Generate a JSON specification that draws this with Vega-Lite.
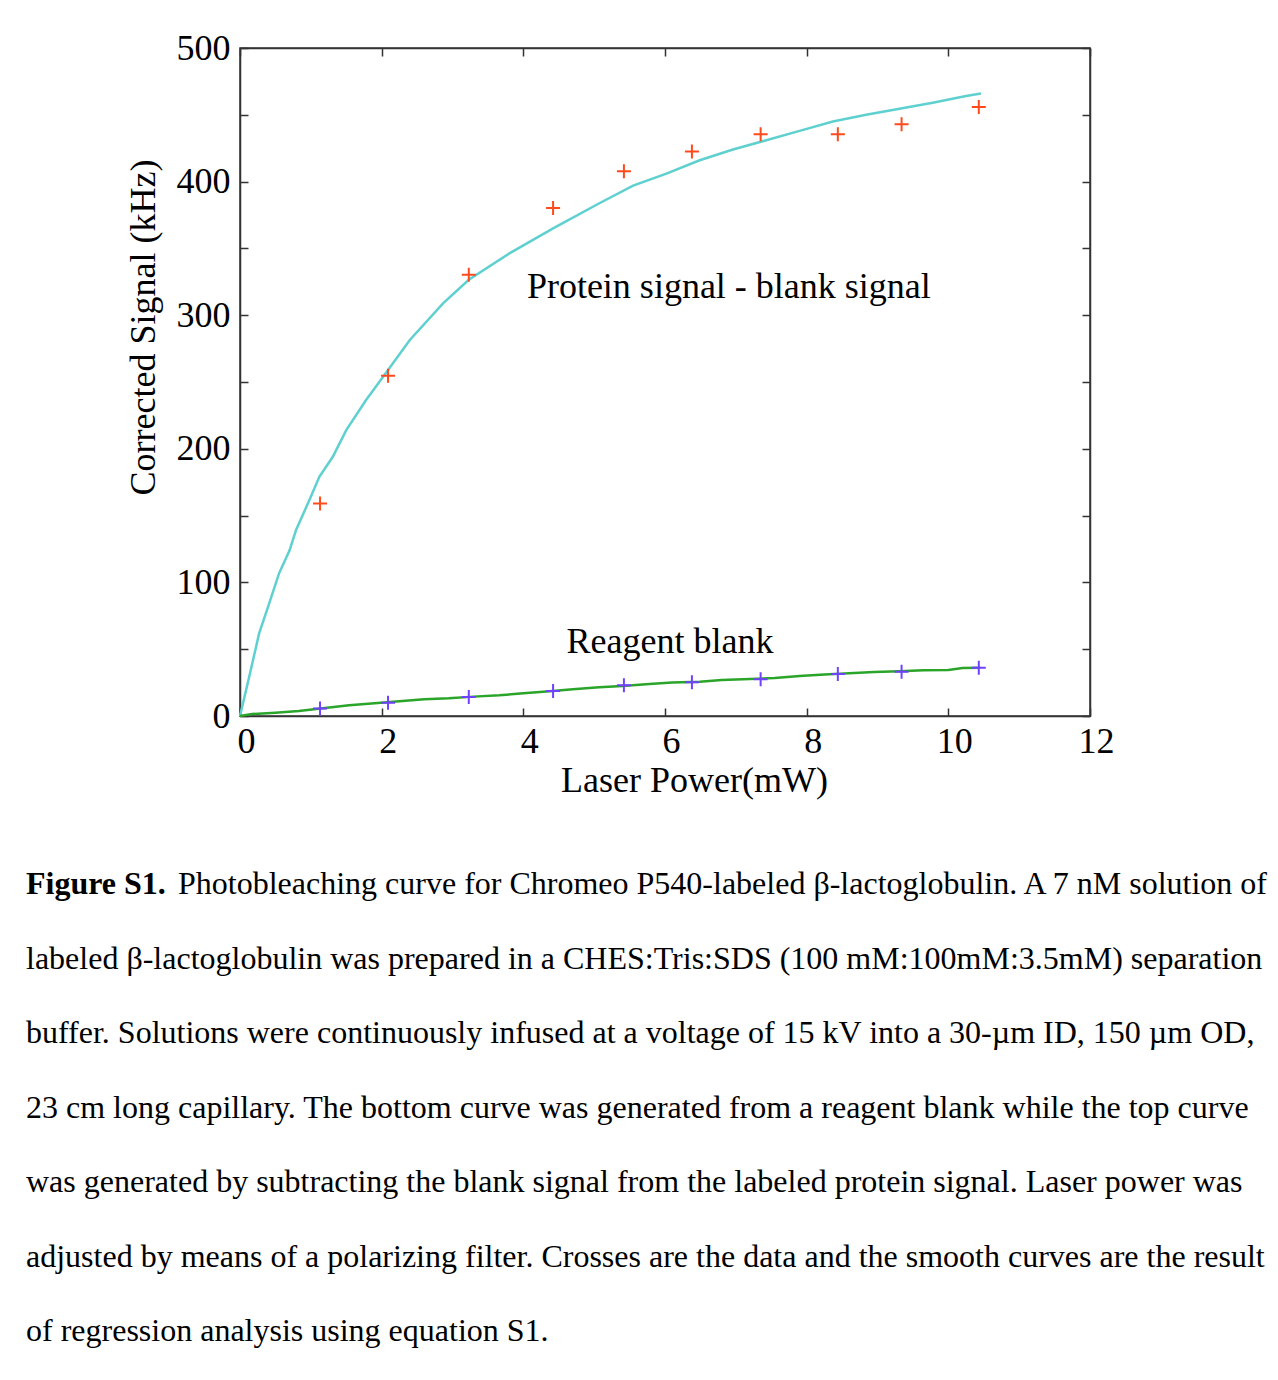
{
  "$schema": "https://vega.github.io/schema/vega-lite/v6.json",
  "width": 850,
  "height": 668,
  "autosize": {"type": "none"},
  "padding": {"left": 240, "top": 48, "right": 188, "bottom": 664},
  "background": "white",
  "config": {
    "font": "Liberation Serif",
    "view": {"stroke": "#333333", "strokeWidth": 1.5},
    "axis": {
      "grid": false,
      "domainColor": "#333333",
      "domainWidth": 1.5,
      "tickColor": "#333333",
      "tickWidth": 1.5,
      "labelFont": "Liberation Serif",
      "labelFontSize": 36,
      "labelColor": "#000000",
      "titleFont": "Liberation Serif",
      "titleFontSize": 36,
      "titleFontWeight": "normal",
      "titleColor": "#000000",
      "labelOverlap": false,
      "labelFlush": false
    }
  },
  "title": {
    "text": "Figure S1.",
    "orient": "bottom",
    "anchor": "start",
    "frame": "group",
    "dx": -214,
    "offset": 71,
    "font": "Liberation Serif",
    "fontSize": 32,
    "fontWeight": "bold",
    "color": "#000000",
    "subtitle": [
      "\u200b\u00a0\u00a0\u00a0\u00a0\u00a0\u00a0\u00a0\u00a0\u00a0\u00a0\u00a0\u00a0\u00a0\u00a0\u00a0\u00a0\u00a0\u00a0\u00a0Photobleaching curve for Chromeo P540-labeled β-lactoglobulin. A 7 nM solution of",
      "labeled β-lactoglobulin was prepared in a CHES:Tris:SDS (100 mM:100mM:3.5mM) separation",
      "buffer. Solutions were continuously infused at a voltage of 15 kV into a 30-µm ID, 150 µm OD,",
      "23 cm long capillary. The bottom curve was generated from a reagent blank while the top curve",
      "was generated by subtracting the blank signal from the labeled protein signal. Laser power was",
      "adjusted by means of a polarizing filter. Crosses are the data and the smooth curves are the result",
      "of regression analysis using equation S1."
    ],
    "subtitleFont": "Liberation Serif",
    "subtitleFontSize": 32,
    "subtitleFontWeight": "normal",
    "subtitleColor": "#000000",
    "subtitleLineHeight": 74.5,
    "subtitlePadding": -32
  },
  "datasets": {
    "fit_protein": [
      {"power": 0, "signal": 0},
      {"power": 0.13, "signal": 29.4},
      {"power": 0.27, "signal": 61.8},
      {"power": 0.41, "signal": 84},
      {"power": 0.55, "signal": 106.6},
      {"power": 0.7, "signal": 124},
      {"power": 0.79, "signal": 139},
      {"power": 0.98, "signal": 161.7},
      {"power": 1.12, "signal": 179},
      {"power": 1.31, "signal": 194},
      {"power": 1.5, "signal": 214},
      {"power": 1.78, "signal": 236.5},
      {"power": 2.09, "signal": 259},
      {"power": 2.4, "signal": 281.6},
      {"power": 2.87, "signal": 309},
      {"power": 3.23, "signal": 326.5},
      {"power": 3.81, "signal": 346.5},
      {"power": 4.42, "signal": 365},
      {"power": 5.08, "signal": 384},
      {"power": 5.55, "signal": 397},
      {"power": 6.02, "signal": 406},
      {"power": 6.49, "signal": 416},
      {"power": 6.96, "signal": 424},
      {"power": 7.43, "signal": 431},
      {"power": 7.9, "signal": 438},
      {"power": 8.37, "signal": 445},
      {"power": 8.84, "signal": 450},
      {"power": 9.31, "signal": 454.5},
      {"power": 9.78, "signal": 459},
      {"power": 10.25, "signal": 464},
      {"power": 10.46, "signal": 466}
    ],
    "fit_blank": [
      {"power": 0, "signal": 0},
      {"power": 0.17, "signal": 1.5},
      {"power": 0.5, "signal": 2.5},
      {"power": 0.83, "signal": 3.7},
      {"power": 1.2, "signal": 6},
      {"power": 1.54, "signal": 8},
      {"power": 1.9, "signal": 9.5},
      {"power": 2.25, "signal": 11},
      {"power": 2.6, "signal": 12.5},
      {"power": 2.95, "signal": 13.2},
      {"power": 3.3, "signal": 14.5},
      {"power": 3.66, "signal": 15.5},
      {"power": 4.0, "signal": 17},
      {"power": 4.37, "signal": 18.5},
      {"power": 4.7, "signal": 20},
      {"power": 5.07, "signal": 21.5},
      {"power": 5.4, "signal": 22.5},
      {"power": 5.78, "signal": 24},
      {"power": 6.1, "signal": 25},
      {"power": 6.49, "signal": 25.7},
      {"power": 6.8, "signal": 27},
      {"power": 7.2, "signal": 27.7},
      {"power": 7.55, "signal": 28.5},
      {"power": 7.9, "signal": 30},
      {"power": 8.25, "signal": 31},
      {"power": 8.6, "signal": 32},
      {"power": 8.95, "signal": 33},
      {"power": 9.31, "signal": 33.5},
      {"power": 9.65, "signal": 34.3},
      {"power": 10.0, "signal": 34.5},
      {"power": 10.2, "signal": 36},
      {"power": 10.45, "signal": 36.2}
    ],
    "data_protein": [
      {"power": 1.13, "signal": 159},
      {"power": 2.09, "signal": 254.6},
      {"power": 3.23, "signal": 330.2},
      {"power": 4.42, "signal": 380.3},
      {"power": 5.42, "signal": 407.8},
      {"power": 6.38, "signal": 422.5},
      {"power": 7.35, "signal": 435.5},
      {"power": 8.44, "signal": 435.5},
      {"power": 9.34, "signal": 443},
      {"power": 10.43, "signal": 455.9}
    ],
    "data_blank": [
      {"power": 1.13, "signal": 5.6},
      {"power": 2.09, "signal": 10},
      {"power": 3.23, "signal": 14.2},
      {"power": 4.42, "signal": 18.7},
      {"power": 5.42, "signal": 23},
      {"power": 6.38, "signal": 25.2},
      {"power": 7.35, "signal": 27.5},
      {"power": 8.44, "signal": 31.5},
      {"power": 9.34, "signal": 33.2},
      {"power": 10.43, "signal": 36.2}
    ],
    "labels": [
      {"label": "Protein signal - blank signal", "power": 4.05, "signal": 313},
      {"label": "Reagent blank", "power": 4.61, "signal": 47}
    ]
  },
  "layer": [
    {
      "data": {"name": "fit_protein"},
      "mark": {"type": "line", "color": "#5fd0d0", "strokeWidth": 2.5},
      "encoding": {
        "x": {
          "field": "power", "type": "quantitative",
          "scale": {"domain": [0, 12], "nice": false, "zero": false},
          "axis": {
            "orient": "bottom",
            "values": [0, 2, 4, 6, 8, 10, 12],
            "tickSize": -8,
            "labelPadding": 16,
            "labelOffset": 6,
            "title": "Laser Power(mW)",
            "titlePadding": 4,
            "titleX": 454
          }
        },
        "y": {
          "field": "signal", "type": "quantitative",
          "scale": {"domain": [0, 500], "nice": false, "zero": false},
          "axis": {
            "orient": "left",
            "values": [0, 50, 100, 150, 200, 250, 300, 350, 400, 450, 500],
            "labelExpr": "datum.value % 100 === 0 ? datum.label : ''",
            "tickSize": -8,
            "labelPadding": 18,
            "title": "Corrected Signal (kHz)",
            "titlePadding": 14,
            "titleY": 279
          }
        }
      }
    },
    {
      "data": {"name": "fit_blank"},
      "mark": {"type": "line", "color": "#2aa52a", "strokeWidth": 2.5},
      "encoding": {
        "x": {
          "field": "power", "type": "quantitative",
          "axis": {
            "orient": "top",
            "values": [0, 2, 4, 6, 8, 10, 12],
            "tickSize": -8,
            "labels": false,
            "title": null
          }
        },
        "y": {
          "field": "signal", "type": "quantitative",
          "axis": {
            "orient": "right",
            "values": [0, 50, 100, 150, 200, 250, 300, 350, 400, 450, 500],
            "tickSize": -8,
            "labels": false,
            "title": null
          }
        }
      }
    },
    {
      "data": {"name": "data_protein"},
      "mark": {"type": "point", "shape": "M-1,0L1,0M0,-1L0,1", "size": 196, "filled": false, "stroke": "#ff4a1c", "strokeWidth": 2, "opacity": 1},
      "encoding": {
        "x": {"field": "power", "type": "quantitative", "axis": null},
        "y": {"field": "signal", "type": "quantitative", "axis": null}
      }
    },
    {
      "data": {"name": "data_blank"},
      "mark": {"type": "point", "shape": "M-1,0L1,0M0,-1L0,1", "size": 196, "filled": false, "stroke": "#7042ff", "strokeWidth": 2, "opacity": 1},
      "encoding": {
        "x": {"field": "power", "type": "quantitative", "axis": null},
        "y": {"field": "signal", "type": "quantitative", "axis": null}
      }
    },
    {
      "data": {"name": "labels"},
      "mark": {"type": "text", "align": "left", "baseline": "alphabetic", "font": "Liberation Serif", "fontSize": 36, "color": "#000000"},
      "encoding": {
        "x": {"field": "power", "type": "quantitative", "axis": null},
        "y": {"field": "signal", "type": "quantitative", "axis": null},
        "text": {"field": "label"}
      }
    }
  ]
}
